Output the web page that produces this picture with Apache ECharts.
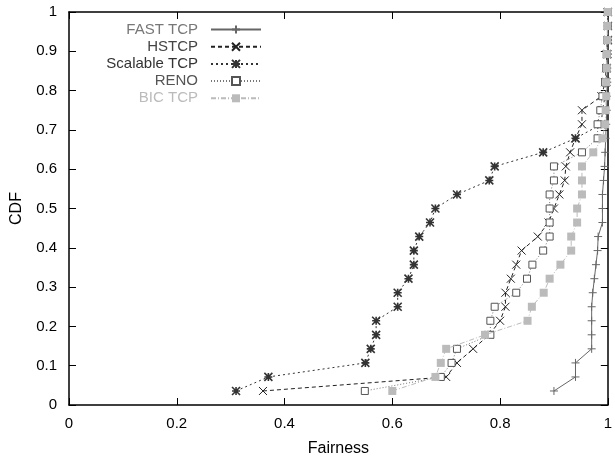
<!DOCTYPE html>
<html><head><meta charset="utf-8">
<script src="https://cdn.jsdelivr.net/npm/echarts@6/dist/echarts.min.js"></script>
<style>html,body{margin:0;padding:0;background:#fff}#c{width:615px;height:465px}</style>
</head><body><div id="c"></div>
<script>
// CDF levels (y values shared by every series)
const cdfLevels = [0.0357,0.0714,0.1071,0.1429,0.1786,0.2143,0.25,0.2857,0.3214,0.3571,0.3929,0.4286,0.4643,0.5,0.5357,0.5714,0.6071,0.6429,0.6786,0.7143,0.75,0.7857,0.8214,0.8571,0.8929,0.9286,0.9643,1.0];
// Fairness values per series
const fastTcp     = [0.90,0.94,0.94,0.97,0.97,0.97,0.97,0.972,0.975,0.978,0.981,0.982,0.99,0.99,0.99,0.992,0.994,0.995,0.996,0.997,0.998,0.998,0.999,0.999,1,1,1,1];
const hsTcp       = [0.36,0.70,0.72,0.75,0.78,0.80,0.81,0.81,0.82,0.83,0.84,0.87,0.89,0.90,0.91,0.92,0.922,0.93,0.94,0.952,0.952,0.988,0.995,0.997,0.998,0.999,1,1];
const scalableTcp = [0.31,0.37,0.55,0.56,0.57,0.57,0.61,0.61,0.63,0.64,0.64,0.65,0.67,0.68,0.72,0.78,0.79,0.88,0.94,0.988,0.99,0.995,0.997,0.998,0.999,1,1,1];
const renoTcp     = [0.549,0.69,0.71,0.72,0.782,0.782,0.79,0.83,0.85,0.86,0.88,0.892,0.892,0.892,0.892,0.90,0.90,0.952,0.981,0.981,0.986,0.99,0.995,0.997,0.998,0.999,1,1];
const bicTcp      = [0.60,0.68,0.69,0.70,0.772,0.851,0.859,0.881,0.892,0.912,0.932,0.932,0.943,0.943,0.952,0.952,0.952,0.973,0.99,0.995,0.996,0.997,0.997,0.998,0.998,0.999,0.999,1.0];
const xTicks = [0,0.2,0.4,0.6,0.8,1];
const seriesNames = ['FAST TCP','HSTCP','Scalable TCP','RENO','BIC TCP'];

const FONT = "'Liberation Sans', Arial, sans-serif";
function pairs(xs){ return xs.map((x,i)=>[x, cdfLevels[i]]); }

const styles = [
  {c:'#666', text:'#777', type:'solid', sym:'path://M0,5L10,5M5,0L5,10', size:8, fill:'#666', bw:1},
  {c:'#222', text:'#444', type:[4,3], sym:'path://M0,0L10,10M10,0L0,10', size:8, fill:'#222', bw:1},
  {c:'#333', text:'#333', type:[2,3], sym:'path://M0,0L10,10M10,0L0,10M5,0L5,10M0,5L10,5', size:8, fill:'#222', bw:1.6},
  {c:'#777', text:'#555', type:[1,2], sym:'rect', size:7, fill:'#fff', bw:1, border:'#555'},
  {c:'#bbb', text:'#bbb', type:[5,2,1,2], sym:'rect', size:8, fill:'#bbb', bw:0}
];
const dataSets = [fastTcp, hsTcp, scalableTcp, renoTcp, bicTcp];

const series = seriesNames.map((n,i)=>{
  const s = styles[i];
  return {
    name:n, type:'line', data:pairs(dataSets[i]),
    symbol:s.sym, symbolSize:s.size, showAllSymbol:true,
    lineStyle:{color:s.c, width:1, type:s.type},
    itemStyle:{color:s.fill, borderColor:s.border||s.c, borderWidth:s.bw},
    xAxisIndex:0, yAxisIndex:0, z:2+i
  };
});

const axisCommon = {
  axisLine:{show:true, onZero:false, lineStyle:{color:'#000', width:1.5}},
  axisTick:{show:true, inside:true, length:7, lineStyle:{color:'#000', width:1}},
  splitLine:{show:false}
};

const option = {
  animation:false,
  backgroundColor:'#fff',
  textStyle:{fontFamily:FONT},
  grid:{left:69, right:1, top:12, bottom:60},
  legend:{
    orient:'vertical', align:'right', left:'auto', right:348, top:17,
    itemWidth:50, itemHeight:10, itemGap:2.2,
    textStyle:{fontFamily:FONT, fontSize:15, lineHeight:15, padding:[0,8,0,0]},
    data:seriesNames.map((n,i)=>({name:n, textStyle:{color:styles[i].text}}))
  },
  xAxis:[
    Object.assign({type:'value', min:0, max:1, interval:0.2, position:'bottom',
      name:'Fairness', nameLocation:'middle', nameGap:36,
      nameTextStyle:{fontFamily:FONT, fontSize:16, color:'#000'},
      axisLabel:{fontFamily:FONT, fontSize:15, color:'#000', margin:11,
        formatter:v=>{const t=xTicks.find(x=>Math.abs(x-v)<1e-9); return t===undefined?'':String(t);}}}, axisCommon),
    Object.assign({type:'value', min:0, max:1, interval:0.2, position:'top', axisLabel:{show:false}}, axisCommon)
  ],
  yAxis:[
    Object.assign({type:'value', min:0, max:1, interval:0.1, position:'left',
      name:'CDF', nameLocation:'middle', nameGap:44, nameRotate:90,
      nameTextStyle:{fontFamily:FONT, fontSize:16, color:'#000'},
      axisLabel:{fontFamily:FONT, fontSize:15, color:'#000', margin:12,
        formatter:v=>String(Math.round(v*10)/10)}}, axisCommon),
    Object.assign({type:'value', min:0, max:1, interval:0.1, position:'right', axisLabel:{show:false}}, axisCommon)
  ],
  series:series
};
echarts.init(document.getElementById('c')).setOption(option);
</script>
</body></html>
